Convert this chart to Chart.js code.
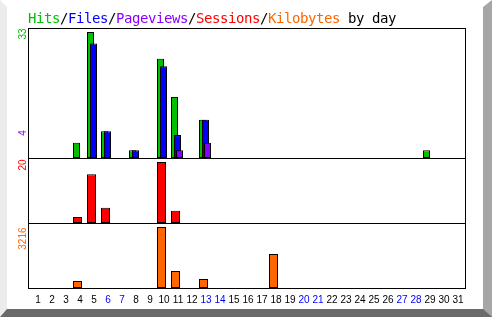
<!DOCTYPE html>
<html><head><meta charset="utf-8">
<script src="https://cdn.jsdelivr.net/npm/chart.js@4"></script>
<style>
html,body{margin:0;padding:0;background:#fff;}
#wrap{position:relative;width:492px;height:317px;overflow:hidden;background:#fff;}
#c{position:absolute;left:0;top:0;width:492px;height:317px;}
#frame{position:absolute;left:0;top:0;width:492px;height:317px;box-sizing:border-box;border-style:solid;border-width:7px 9px 8px 7px;border-color:#fff #a6a6a6 #6a6a6a #ececec;pointer-events:none;}
#title{position:absolute;left:28px;top:11px;font-family:"DejaVu Sans Mono",monospace;font-size:14px;line-height:14px;letter-spacing:-0.43px;white-space:pre;}
</style></head>
<body>
<div id="wrap"><canvas id="c" width="492" height="317"></canvas><div id="title"></div><div id="frame"></div></div>
<script>
// ---- data ----
const days = [1,2,3,4,5,6,7,8,9,10,11,12,13,14,15,16,17,18,19,20,21,22,23,24,25,26,27,28,29,30,31];
const dayLabels = ['1','2','3','4','5','6','7','8','9','10','11','12','13','14','15','16','17','18','19','20','21','22','23','24','25','26','27','28','29','30','31'];
const weekendDays = [6,7,13,14,20,21,27,28];
const hits      = [0,0,0,4,33,7,0,2,0,26,16,0,10,0,0,0,0,0,0,0,0,0,0,0,0,0,0,0,2,0,0];
const files     = [0,0,0,0,30,7,0,2,0,24,6,0,10,0,0,0,0,0,0,0,0,0,0,0,0,0,0,0,0,0,0];
const pageviews = [0,0,0,0,0,0,0,0,0,0,2,0,4,0,0,0,0,0,0,0,0,0,0,0,0,0,0,0,0,0,0];
const sessions  = [0,0,0,2,16,5,0,0,0,20,4,0,0,0,0,0,0,0,0,0,0,0,0,0,0,0,0,0,0,0,0];
const kilobytes = [0,0,0,369,0,0,0,0,0,3216,896,0,474,0,0,0,0,1793,0,0,0,0,0,0,0,0,0,0,0,0,0];
const titleParts = [['Hits','#00c000'],['/','#000'],['Files','#0000ff'],['/','#000'],['Pageviews','#8800ff'],['/','#000'],['Sessions','#ff0000'],['/','#000'],['Kilobytes','#ff6600'],[' by day','#000']];

// ---- colours / layout ----
const C = {hits:'#00c000', files:'#0000ff', pages:'#8800ff', sess:'#ff0000', kb:'#ff6600', weekend:'#0000ff', text:'#000'};
const PLOT = {left:28, right:466, top:28, bottom:288};
const DAY_PX = 14;
const PLOT_H = PLOT.bottom - PLOT.top;
const HITS_H = PLOT_H/2, SESS_H = PLOT_H/4, KB_H = PLOT_H/4;
const tickFont = {family:'"Liberation Sans", Arial, sans-serif', size:10};

// title
const t = document.getElementById('title');
titleParts.forEach(([s,col]) => { const sp = document.createElement('span'); sp.textContent = s; sp.style.color = col; t.appendChild(sp); });

const maxOf = a => Math.max(...a);
const hitsMax = maxOf(hits), pagesMax = maxOf(pageviews), sessMax = maxOf(sessions), kbMax = maxOf(kilobytes);

function dayAxis(firstCenterPx){
  const min = 1 - (firstCenterPx - PLOT.left)/DAY_PX;
  return {type:'linear', display:false, bounds:'data', offset:false, grid:{offset:false}, min, max: min + (PLOT.right-PLOT.left)/DAY_PX};
}
function yAxis(weight, max, tickVals, labels, colors, labelOffset){
  return {
    type:'linear', position:'left', stack:'panels', stackWeight:weight, bounds:'data', min:0, max,
    grid:{display:false, drawTicks:false}, border:{display:false},
    ticks:{minRotation:90, maxRotation:90, autoSkip:false, padding:5, labelOffset, font:tickFont,
      color: ctx => colors[ctx.index], callback:(v,i) => labels[i]},
    afterBuildTicks: s => { s.ticks = tickVals.map(v => ({value:v})); },
    afterFit: s => { s.width = PLOT.left - 8; }
  };
}
const yHitsMax = hitsMax*HITS_H/126, ySessMax = sessMax*SESS_H/61, yKbMax = kbMax*KB_H/61;
const toPts = arr => days.map((d,i) => ({x:d, y: arr[i] ? arr[i] : null}));

const framePlugin = {
  id:'frame',
  beforeDatasetsDraw(chart){
    const {ctx, chartArea:a, scales} = chart;
    ctx.save();
    ctx.strokeStyle = '#000'; ctx.lineWidth = 1;
    ctx.strokeRect(a.left+0.5, a.top+0.5, a.right-a.left-1, a.bottom-a.top);
    [scales.yHits, scales.ySess, scales.yKb].forEach(s => {
      if (s.top > a.top + 1) { ctx.beginPath(); ctx.moveTo(a.left, s.top+0.5); ctx.lineTo(a.right, s.top+0.5); ctx.stroke(); }
    });
    ctx.restore();
  }
};

const barBase = {borderColor:'#000', borderWidth:1, borderSkipped:false, grouped:false, inflateAmount:0, borderRadius:0};

new Chart(document.getElementById('c'), {
  type:'bar',
  data:{datasets:[
    Object.assign({label:'Hits', data:toPts(hits), backgroundColor:C.hits, xAxisID:'xHits', yAxisID:'yHits', maxBarThickness:7, order:3}, barBase),
    Object.assign({label:'Files', data:toPts(files), backgroundColor:C.files, xAxisID:'xFiles', yAxisID:'yHits', maxBarThickness:7, order:2}, barBase),
    Object.assign({label:'Pageviews', data:toPts(pageviews), backgroundColor:C.pages, xAxisID:'xPages', yAxisID:'yHits', maxBarThickness:7, order:1}, barBase),
    Object.assign({label:'Sessions', data:toPts(sessions), backgroundColor:C.sess, xAxisID:'xWide', yAxisID:'ySess', maxBarThickness:9, order:1}, barBase),
    Object.assign({label:'Kilobytes', data:toPts(kilobytes), backgroundColor:C.kb, xAxisID:'xWide', yAxisID:'yKb', maxBarThickness:9, order:1}, barBase)
  ]},
  options:{
    responsive:false, animation:false, devicePixelRatio:1,
    layout:{padding:{left:8, right:492-PLOT.right, top:PLOT.top, bottom:0}},
    plugins:{legend:{display:false}, tooltip:{enabled:false}, title:{display:false}},
    scales:{
      yKb:   yAxis(1, yKbMax, [yKbMax], [String(kbMax)], [C.kb], 4.5),
      ySess: yAxis(1, ySessMax, [ySessMax], [String(sessMax)], [C.sess], 1.5),
      yHits: yAxis(2, yHitsMax, [yHitsMax, pagesMax + 13*yHitsMax/HITS_H], [String(hitsMax), String(pagesMax)], [C.hits, C.pages], 0.5),
      xHits: dayAxis(34.5),
      xFiles: dayAxis(37.5),
      xPages: dayAxis(39.5),
      xWide: dayAxis(35.5),
      xDays: Object.assign(dayAxis(38), {
        display:true, position:'bottom',
        grid:{display:false, drawTicks:false, offset:false}, border:{display:false},
        ticks:{autoSkip:false, minRotation:0, maxRotation:0, padding:6, font:tickFont,
          color: ctx => weekendDays.includes(days[ctx.index]) ? C.weekend : C.text,
          callback:(v,i) => dayLabels[i]},
        afterBuildTicks: s => { s.ticks = days.map(d => ({value:d})); },
        afterFit: s => { s.height = 317 - PLOT.bottom; }
      })
    }
  },
  plugins:[framePlugin]
});
</script>
</body></html>
